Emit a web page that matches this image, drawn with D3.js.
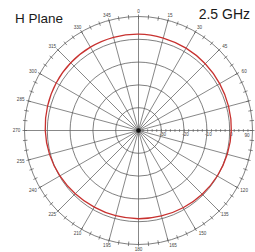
<!DOCTYPE html>
<html>
<head>
<meta charset="utf-8">
<script src="https://cdn.jsdelivr.net/npm/d3@7"></script>
<style>
  body { margin: 0; background: #fff; }
  text { font-family: "Liberation Sans", Arial, sans-serif; }
</style>
</head>
<body>
<div id="chart"></div>
<script>
// pattern data (dB), every 15 degrees
const angles = [0, 15, 30, 45, 60, 75, 90, 105, 120, 135, 150, 165,
                180, 195, 210, 225, 240, 255, 270, 285, 300, 315, 330, 345];
const gainDb = [2.3, 2.0, 1.7, 1.4, 1.1, 0.9, 0.7, 0.3, -0.1, -0.5, -0.9, -1.2,
                -1.3, -1.3, -1.2, -0.8, -0.2, 0.4, 0.9, 1.3, 1.7, 2.0, 2.2, 2.3];
const dbRings = [-30, -20, -10, 0, 10];
const dbLabels = ["-30", "-20", "-10", "0"];
const title = "H Plane";
const freq = "2.5 GHz";

const width = 255, height = 252;
const cx = 138.5, cy = 130.5, outerR = 114;

const svg = d3.select("#chart")
    .append("svg")
    .attr("width", width)
    .attr("height", height);

const r = d3.scaleLinear().domain([-40, 10]).range([0, outerR]);
const rad = d => d * Math.PI / 180;

const g = svg.append("g").attr("transform", `translate(${cx}, ${cy})`);

// rings
g.selectAll("circle.ring")
    .data(dbRings)
    .join("circle")
    .attr("class", "ring")
    .attr("r", d => r(d))
    .attr("fill", "none")
    .attr("stroke", "#555")
    .attr("stroke-width", 0.75);

// spokes
g.selectAll("line.spoke")
    .data(angles)
    .join("line")
    .attr("class", "spoke")
    .attr("x1", 0).attr("y1", 0)
    .attr("x2", d => outerR * Math.sin(rad(d)))
    .attr("y2", d => -outerR * Math.cos(rad(d)))
    .attr("stroke", "#555")
    .attr("stroke-width", 0.7);

// minor ticks on outer circle every 5 deg
g.selectAll("line.tick")
    .data(d3.range(0, 360, 5))
    .join("line")
    .attr("class", "tick")
    .attr("x1", d => (outerR - 2.5) * Math.sin(rad(d)))
    .attr("y1", d => -(outerR - 2.5) * Math.cos(rad(d)))
    .attr("x2", d => (outerR + 2) * Math.sin(rad(d)))
    .attr("y2", d => -(outerR + 2) * Math.cos(rad(d)))
    .attr("stroke", "#555")
    .attr("stroke-width", 0.7);

// minor dB ticks along the 90 deg axis
g.selectAll("line.dbtick")
    .data(d3.range(-38, 10, 2))
    .join("line")
    .attr("class", "dbtick")
    .attr("x1", d => r(d)).attr("x2", d => r(d))
    .attr("y1", -1.5).attr("y2", 1.5)
    .attr("stroke", "#555")
    .attr("stroke-width", 0.6);

// angle labels
g.selectAll("text.ang")
    .data(angles.filter(a => a !== 75 && a !== 105))
    .join("text")
    .attr("class", "ang")
    .attr("x", d => Math.min(122 * Math.sin(rad(d)), width - cx - 8) + (d > 135 && d < 180 ? 3 : 0))
    .attr("y", d => -119 * Math.cos(rad(d)) + (d === 90 ? 6 : 1.7))
    .attr("text-anchor", "middle")
    .attr("font-size", 4.6)
    .attr("fill", "#444")
    .text(d => d);

// dB labels
g.selectAll("text.db")
    .data(dbLabels)
    .join("text")
    .attr("class", "db")
    .attr("x", d => r(+d) + 1.5)
    .attr("y", 5.5)
    .attr("text-anchor", "middle")
    .attr("font-size", 4.6)
    .attr("fill", "#444")
    .text(d => d);

// center dot
g.append("circle").attr("r", 2.3).attr("fill", "#111");

// pattern trace
const pts = angles.map((a, i) => [rad(a), r(gainDb[i])]);
const line = d3.lineRadial().curve(d3.curveCardinalClosed);
g.append("path")
    .attr("d", line(pts))
    .attr("fill", "none")
    .attr("stroke", "#c8312f")
    .attr("stroke-width", 1.3);

// titles
svg.append("text")
    .attr("x", 15).attr("y", 22.5)
    .attr("font-size", 13.5)
    .attr("fill", "#1a1a1a")
    .text(title);
svg.append("text")
    .attr("x", 250).attr("y", 18.5)
    .attr("text-anchor", "end")
    .attr("font-size", 14)
    .attr("fill", "#1a1a1a")
    .text(freq);
</script>
</body>
</html>
